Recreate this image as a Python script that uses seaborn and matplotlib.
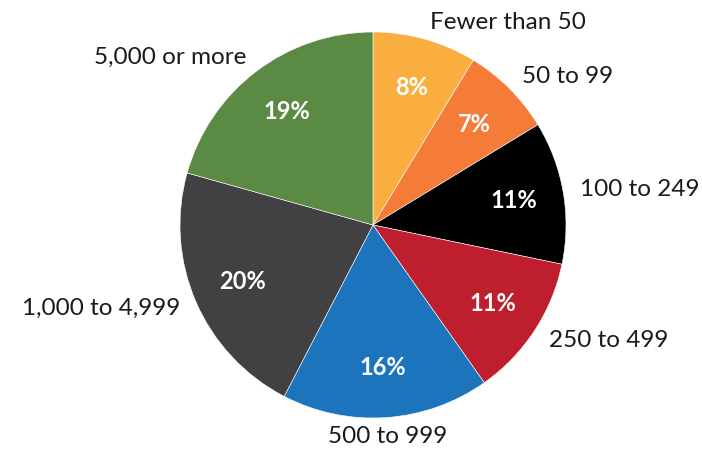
import numpy as np
import matplotlib
matplotlib.use("Agg")
import matplotlib.pyplot as plt
import seaborn as sns

# Dados do gráfico
categorias = ["Fewer than 50", "50 to 99", "100 to 249", "250 to 499",
              "500 to 999", "1,000 to 4,999", "5,000 or more"]
percentuais = [8, 7, 11, 11, 16, 20, 19]
cores = ["#FBAE40", "#F47B38", "#000000", "#BE1E2D",
         "#1C75BC", "#414042", "#5B8A45"]

sns.set_theme(style="white")
plt.rcParams["font.family"] = ["Lato", "DejaVu Sans"]

fig = plt.figure(figsize=(7.02, 4.49), dpi=100)
ax = fig.add_axes([0, 0, 1, 1])

total = sum(percentuais)
wedges, _, autotexts = ax.pie(
    percentuais,
    colors=cores,
    startangle=90,
    counterclock=False,
    radius=1.0,
    autopct=lambda p: f"{p * total / 100:.0f}%",
    pctdistance=0.74,
    wedgeprops=dict(edgecolor="white", linewidth=0.4),
    textprops=dict(color="white", fontsize=17, fontweight="bold"),
)

# Rótulos das categorias fora da pizza
for w, nome in zip(wedges, categorias):
    ang = np.deg2rad((w.theta1 + w.theta2) / 2)
    x, y = np.cos(ang), np.sin(ang)
    dist = 1.09
    if abs(x) < 0.15:
        ha = "center"
        dist = 1.10
    elif x > 0:
        ha = "left"
    else:
        ha = "right"
    ax.text(dist * x, dist * y, nome, ha=ha, va="center",
            fontsize=17.5, color="#1a1a1a")

# Posiciona o centro da pizza em (373, 225) px com raio 193 px
r = 193
ax.set_xlim(-373 / r, (702 - 373) / r)
ax.set_ylim(-(449 - 225) / r, 225 / r)
ax.set_aspect("equal")
ax.axis("off")

fig.savefig("out.png", dpi=100)
